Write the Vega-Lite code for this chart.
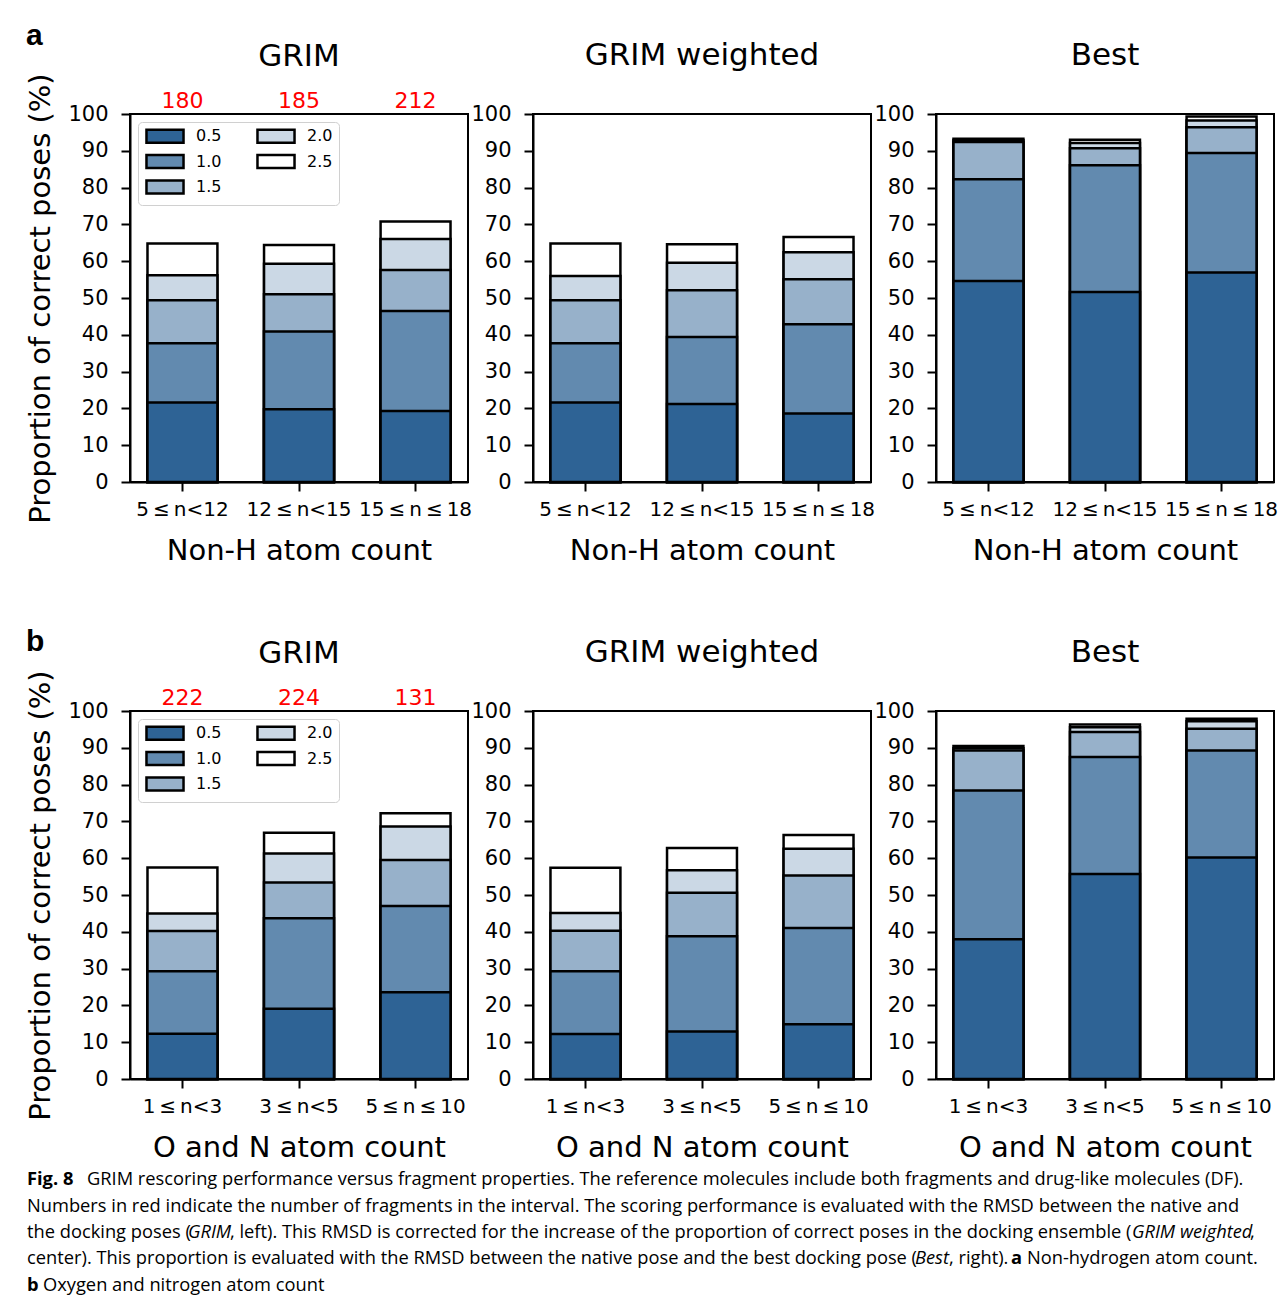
{
 "$schema": "https://vega.github.io/schema/vega-lite/v6.json",
 "padding": {"left": 25, "top": 21, "right": 5, "bottom": 2},
 "background": "white",
 "datasets": {
  "bars": [
   {"r":"a","m":"G","bin":"5\u2009≤\u2009n<12","thr":"0.5","v":21.6},{"r":"a","m":"G","bin":"5\u2009≤\u2009n<12","thr":"1.0","v":37.7},{"r":"a","m":"G","bin":"5\u2009≤\u2009n<12","thr":"1.5","v":49.4},{"r":"a","m":"G","bin":"5\u2009≤\u2009n<12","thr":"2.0","v":56.2},{"r":"a","m":"G","bin":"5\u2009≤\u2009n<12","thr":"2.5","v":64.8},
   {"r":"a","m":"G","bin":"12\u2009≤\u2009n<15","thr":"0.5","v":19.8},{"r":"a","m":"G","bin":"12\u2009≤\u2009n<15","thr":"1.0","v":40.9},{"r":"a","m":"G","bin":"12\u2009≤\u2009n<15","thr":"1.5","v":51.0},{"r":"a","m":"G","bin":"12\u2009≤\u2009n<15","thr":"2.0","v":59.3},{"r":"a","m":"G","bin":"12\u2009≤\u2009n<15","thr":"2.5","v":64.4},
   {"r":"a","m":"G","bin":"15\u2009≤\u2009n\u2009≤\u200918","thr":"0.5","v":19.3},{"r":"a","m":"G","bin":"15\u2009≤\u2009n\u2009≤\u200918","thr":"1.0","v":46.5},{"r":"a","m":"G","bin":"15\u2009≤\u2009n\u2009≤\u200918","thr":"1.5","v":57.6},{"r":"a","m":"G","bin":"15\u2009≤\u2009n\u2009≤\u200918","thr":"2.0","v":66.0},{"r":"a","m":"G","bin":"15\u2009≤\u2009n\u2009≤\u200918","thr":"2.5","v":70.8},
   {"r":"a","m":"W","bin":"5\u2009≤\u2009n<12","thr":"0.5","v":21.6},{"r":"a","m":"W","bin":"5\u2009≤\u2009n<12","thr":"1.0","v":37.7},{"r":"a","m":"W","bin":"5\u2009≤\u2009n<12","thr":"1.5","v":49.4},{"r":"a","m":"W","bin":"5\u2009≤\u2009n<12","thr":"2.0","v":56.0},{"r":"a","m":"W","bin":"5\u2009≤\u2009n<12","thr":"2.5","v":64.8},
   {"r":"a","m":"W","bin":"12\u2009≤\u2009n<15","thr":"0.5","v":21.2},{"r":"a","m":"W","bin":"12\u2009≤\u2009n<15","thr":"1.0","v":39.4},{"r":"a","m":"W","bin":"12\u2009≤\u2009n<15","thr":"1.5","v":52.1},{"r":"a","m":"W","bin":"12\u2009≤\u2009n<15","thr":"2.0","v":59.6},{"r":"a","m":"W","bin":"12\u2009≤\u2009n<15","thr":"2.5","v":64.6},
   {"r":"a","m":"W","bin":"15\u2009≤\u2009n\u2009≤\u200918","thr":"0.5","v":18.6},{"r":"a","m":"W","bin":"15\u2009≤\u2009n\u2009≤\u200918","thr":"1.0","v":42.9},{"r":"a","m":"W","bin":"15\u2009≤\u2009n\u2009≤\u200918","thr":"1.5","v":55.1},{"r":"a","m":"W","bin":"15\u2009≤\u2009n\u2009≤\u200918","thr":"2.0","v":62.4},{"r":"a","m":"W","bin":"15\u2009≤\u2009n\u2009≤\u200918","thr":"2.5","v":66.6},
   {"r":"a","m":"B","bin":"5\u2009≤\u2009n<12","thr":"0.5","v":54.6},{"r":"a","m":"B","bin":"5\u2009≤\u2009n<12","thr":"1.0","v":82.3},{"r":"a","m":"B","bin":"5\u2009≤\u2009n<12","thr":"1.5","v":92.4},{"r":"a","m":"B","bin":"5\u2009≤\u2009n<12","thr":"2.0","v":92.9},{"r":"a","m":"B","bin":"5\u2009≤\u2009n<12","thr":"2.5","v":93.3},
   {"r":"a","m":"B","bin":"12\u2009≤\u2009n<15","thr":"0.5","v":51.6},{"r":"a","m":"B","bin":"12\u2009≤\u2009n<15","thr":"1.0","v":86.1},{"r":"a","m":"B","bin":"12\u2009≤\u2009n<15","thr":"1.5","v":90.7},{"r":"a","m":"B","bin":"12\u2009≤\u2009n<15","thr":"2.0","v":92.1},{"r":"a","m":"B","bin":"12\u2009≤\u2009n<15","thr":"2.5","v":93.0},
   {"r":"a","m":"B","bin":"15\u2009≤\u2009n\u2009≤\u200918","thr":"0.5","v":56.9},{"r":"a","m":"B","bin":"15\u2009≤\u2009n\u2009≤\u200918","thr":"1.0","v":89.4},{"r":"a","m":"B","bin":"15\u2009≤\u2009n\u2009≤\u200918","thr":"1.5","v":96.4},{"r":"a","m":"B","bin":"15\u2009≤\u2009n\u2009≤\u200918","thr":"2.0","v":98.2},{"r":"a","m":"B","bin":"15\u2009≤\u2009n\u2009≤\u200918","thr":"2.5","v":99.3},
   {"r":"b","m":"G","bin":"1\u2009≤\u2009n<3","thr":"0.5","v":12.3},{"r":"b","m":"G","bin":"1\u2009≤\u2009n<3","thr":"1.0","v":29.3},{"r":"b","m":"G","bin":"1\u2009≤\u2009n<3","thr":"1.5","v":40.2},{"r":"b","m":"G","bin":"1\u2009≤\u2009n<3","thr":"2.0","v":45.0},{"r":"b","m":"G","bin":"1\u2009≤\u2009n<3","thr":"2.5","v":57.5},
   {"r":"b","m":"G","bin":"3\u2009≤\u2009n<5","thr":"0.5","v":19.1},{"r":"b","m":"G","bin":"3\u2009≤\u2009n<5","thr":"1.0","v":43.7},{"r":"b","m":"G","bin":"3\u2009≤\u2009n<5","thr":"1.5","v":53.4},{"r":"b","m":"G","bin":"3\u2009≤\u2009n<5","thr":"2.0","v":61.3},{"r":"b","m":"G","bin":"3\u2009≤\u2009n<5","thr":"2.5","v":66.9},
   {"r":"b","m":"G","bin":"5\u2009≤\u2009n\u2009≤\u200910","thr":"0.5","v":23.6},{"r":"b","m":"G","bin":"5\u2009≤\u2009n\u2009≤\u200910","thr":"1.0","v":47.0},{"r":"b","m":"G","bin":"5\u2009≤\u2009n\u2009≤\u200910","thr":"1.5","v":59.5},{"r":"b","m":"G","bin":"5\u2009≤\u2009n\u2009≤\u200910","thr":"2.0","v":68.6},{"r":"b","m":"G","bin":"5\u2009≤\u2009n\u2009≤\u200910","thr":"2.5","v":72.2},
   {"r":"b","m":"W","bin":"1\u2009≤\u2009n<3","thr":"0.5","v":12.2},{"r":"b","m":"W","bin":"1\u2009≤\u2009n<3","thr":"1.0","v":29.3},{"r":"b","m":"W","bin":"1\u2009≤\u2009n<3","thr":"1.5","v":40.3},{"r":"b","m":"W","bin":"1\u2009≤\u2009n<3","thr":"2.0","v":45.1},{"r":"b","m":"W","bin":"1\u2009≤\u2009n<3","thr":"2.5","v":57.4},
   {"r":"b","m":"W","bin":"3\u2009≤\u2009n<5","thr":"0.5","v":12.9},{"r":"b","m":"W","bin":"3\u2009≤\u2009n<5","thr":"1.0","v":38.8},{"r":"b","m":"W","bin":"3\u2009≤\u2009n<5","thr":"1.5","v":50.6},{"r":"b","m":"W","bin":"3\u2009≤\u2009n<5","thr":"2.0","v":56.7},{"r":"b","m":"W","bin":"3\u2009≤\u2009n<5","thr":"2.5","v":62.8},
   {"r":"b","m":"W","bin":"5\u2009≤\u2009n\u2009≤\u200910","thr":"0.5","v":14.9},{"r":"b","m":"W","bin":"5\u2009≤\u2009n\u2009≤\u200910","thr":"1.0","v":41.0},{"r":"b","m":"W","bin":"5\u2009≤\u2009n\u2009≤\u200910","thr":"1.5","v":55.3},{"r":"b","m":"W","bin":"5\u2009≤\u2009n\u2009≤\u200910","thr":"2.0","v":62.6},{"r":"b","m":"W","bin":"5\u2009≤\u2009n\u2009≤\u200910","thr":"2.5","v":66.3},
   {"r":"b","m":"B","bin":"1\u2009≤\u2009n<3","thr":"0.5","v":38.0},{"r":"b","m":"B","bin":"1\u2009≤\u2009n<3","thr":"1.0","v":78.4},{"r":"b","m":"B","bin":"1\u2009≤\u2009n<3","thr":"1.5","v":89.3},{"r":"b","m":"B","bin":"1\u2009≤\u2009n<3","thr":"2.0","v":89.9},{"r":"b","m":"B","bin":"1\u2009≤\u2009n<3","thr":"2.5","v":90.5},
   {"r":"b","m":"B","bin":"3\u2009≤\u2009n<5","thr":"0.5","v":55.7},{"r":"b","m":"B","bin":"3\u2009≤\u2009n<5","thr":"1.0","v":87.5},{"r":"b","m":"B","bin":"3\u2009≤\u2009n<5","thr":"1.5","v":94.3},{"r":"b","m":"B","bin":"3\u2009≤\u2009n<5","thr":"2.0","v":95.6},{"r":"b","m":"B","bin":"3\u2009≤\u2009n<5","thr":"2.5","v":96.3},
   {"r":"b","m":"B","bin":"5\u2009≤\u2009n\u2009≤\u200910","thr":"0.5","v":60.2},{"r":"b","m":"B","bin":"5\u2009≤\u2009n\u2009≤\u200910","thr":"1.0","v":89.3},{"r":"b","m":"B","bin":"5\u2009≤\u2009n\u2009≤\u200910","thr":"1.5","v":95.2},{"r":"b","m":"B","bin":"5\u2009≤\u2009n\u2009≤\u200910","thr":"2.0","v":97.2},{"r":"b","m":"B","bin":"5\u2009≤\u2009n\u2009≤\u200910","thr":"2.5","v":97.9}
  ],
  "counts": [
   {"r":"a","bin":"5\u2009≤\u2009n<12","n":180},{"r":"a","bin":"12\u2009≤\u2009n<15","n":185},{"r":"a","bin":"15\u2009≤\u2009n\u2009≤\u200918","n":212},
   {"r":"b","bin":"1\u2009≤\u2009n<3","n":222},{"r":"b","bin":"3\u2009≤\u2009n<5","n":224},{"r":"b","bin":"5\u2009≤\u2009n\u2009≤\u200910","n":131}
  ],
  "cap": [
   {"s":1,"line":1,"t":"Fig. 8"},
   {"s":2,"line":1,"t":"GRIM rescoring performance versus fragment properties. The reference molecules include both fragments and drug-like molecules (DF)."},
   {"s":3,"line":2,"t":"Numbers in red indicate the number of fragments in the interval. The scoring performance is evaluated with the RMSD between the native and"},
   {"s":4,"line":3,"t":"the docking poses ("},
   {"s":5,"line":3,"t":"GRIM"},
   {"s":6,"line":3,"t":", left). This RMSD is corrected for the increase of the proportion of correct poses in the docking ensemble ("},
   {"s":7,"line":3,"t":"GRIM weighted"},
   {"s":8,"line":3,"t":","},
   {"s":9,"line":4,"t":"center). This proportion is evaluated with the RMSD between the native pose and the best docking pose ("},
   {"s":10,"line":4,"t":"Best"},
   {"s":11,"line":4,"t":", right)."},
   {"s":12,"line":4,"t":"a"},
   {"s":13,"line":4,"t":"Non-hydrogen atom count."},
   {"s":14,"line":5,"t":"b"},
   {"s":15,"line":5,"t":"Oxygen and nitrogen atom count"}
  ]
 },
 "concat": [
  {
   "vconcat": [
    {
     "title": {"text": "a", "anchor": "start", "frame": "bounds", "font": "Liberation Sans", "fontSize": 30, "fontWeight": "bold", "offset": -12},
     "hconcat": [
      {
       "width": 338, "height": 368,
       "title": {"text": "GRIM", "offset": 0},
       "layer": [
        {
         "data": {"name": "bars"},
         "transform": [{"filter": "datum.r == 'a' && datum.m == 'G'"}],
         "mark": {"type": "bar", "stroke": "black", "strokeWidth": 2.5},
         "encoding": {
          "x": {"field": "bin", "type": "nominal", "sort": ["5\u2009≤\u2009n<12", "12\u2009≤\u2009n<15", "15\u2009≤\u2009n\u2009≤\u200918"], "scale": {"paddingInner": 0.4, "paddingOuter": 0.15}, "axis": {"title": "Non-H atom count"}},
          "y": {"field": "v", "type": "quantitative", "stack": null, "scale": {"domain": [0, 100], "nice": false}, "axis": {"title": "Proportion of correct poses (%)"}},
          "color": {"field": "thr", "type": "nominal", "scale": {"domain": ["0.5", "1.0", "1.5", "2.0", "2.5"], "range": ["#2e6395", "#628aaf", "#97b1ca", "#cbd8e5", "#ffffff"]}, "legend": {"orient": "top-left", "offset": 8, "title": null, "columns": 2, "symbolType": "M-2.85,-1H2.85V1H-2.85Z", "symbolSize": 169, "symbolOffset": 13, "symbolStrokeColor": "black", "symbolStrokeWidth": 2.5, "symbolOpacity": 1, "labelFontSize": 16, "labelFont": "DejaVu Sans", "labelColor": "black", "labelOffset": 23, "columnPadding": 30, "rowPadding": 1.5, "padding": 6, "fillColor": "white", "strokeColor": "#d0d0d0", "cornerRadius": 4}},
          "order": {"field": "thr", "sort": "descending"}
         }
        },
        {
         "data": {"name": "counts"},
         "transform": [{"filter": "datum.r == 'a'"}],
         "mark": {"type": "text", "color": "#ff0000", "fontSize": 22, "font": "DejaVu Sans", "align": "center", "baseline": "alphabetic", "dy": -6},
         "encoding": {"x": {"field": "bin", "type": "nominal", "sort": ["5\u2009≤\u2009n<12", "12\u2009≤\u2009n<15", "15\u2009≤\u2009n\u2009≤\u200918"]}, "y": {"datum": 100}, "text": {"field": "n"}}
        }
       ]
      },
      {
       "width": 338, "height": 368,
       "title": {"text": "GRIM weighted", "offset": 31},
       "data": {"name": "bars"},
       "transform": [{"filter": "datum.r == 'a' && datum.m == 'W'"}],
       "mark": {"type": "bar", "stroke": "black", "strokeWidth": 2.5},
       "encoding": {
        "x": {"field": "bin", "type": "nominal", "sort": ["5\u2009≤\u2009n<12", "12\u2009≤\u2009n<15", "15\u2009≤\u2009n\u2009≤\u200918"], "scale": {"paddingInner": 0.4, "paddingOuter": 0.15}, "axis": {"title": "Non-H atom count"}},
        "y": {"field": "v", "type": "quantitative", "stack": null, "scale": {"domain": [0, 100], "nice": false}, "axis": {"title": null}},
        "color": {"field": "thr", "type": "nominal", "scale": {"domain": ["0.5", "1.0", "1.5", "2.0", "2.5"], "range": ["#2e6395", "#628aaf", "#97b1ca", "#cbd8e5", "#ffffff"]}, "legend": null},
        "order": {"field": "thr", "sort": "descending"}
       }
      },
      {
       "width": 338, "height": 368,
       "title": {"text": "Best", "offset": 31},
       "data": {"name": "bars"},
       "transform": [{"filter": "datum.r == 'a' && datum.m == 'B'"}],
       "mark": {"type": "bar", "stroke": "black", "strokeWidth": 2.5},
       "encoding": {
        "x": {"field": "bin", "type": "nominal", "sort": ["5\u2009≤\u2009n<12", "12\u2009≤\u2009n<15", "15\u2009≤\u2009n\u2009≤\u200918"], "scale": {"paddingInner": 0.4, "paddingOuter": 0.15}, "axis": {"title": "Non-H atom count"}},
        "y": {"field": "v", "type": "quantitative", "stack": null, "scale": {"domain": [0, 100], "nice": false}, "axis": {"title": null}},
        "color": {"field": "thr", "type": "nominal", "scale": {"domain": ["0.5", "1.0", "1.5", "2.0", "2.5"], "range": ["#2e6395", "#628aaf", "#97b1ca", "#cbd8e5", "#ffffff"]}, "legend": null},
        "order": {"field": "thr", "sort": "descending"}
       }
      }
     ],
     "spacing": 65,
     "bounds": "flush",
     "resolve": {"scale": {"color": "independent", "x": "independent", "y": "independent"}, "legend": {"color": "independent"}}
    },
    {
     "title": {"text": "b", "anchor": "start", "frame": "bounds", "font": "Liberation Sans", "fontSize": 30, "fontWeight": "bold", "offset": -21},
     "hconcat": [
      {
       "width": 338, "height": 368,
       "title": {"text": "GRIM", "offset": 0},
       "layer": [
        {
         "data": {"name": "bars"},
         "transform": [{"filter": "datum.r == 'b' && datum.m == 'G'"}],
         "mark": {"type": "bar", "stroke": "black", "strokeWidth": 2.5},
         "encoding": {
          "x": {"field": "bin", "type": "nominal", "sort": ["1\u2009≤\u2009n<3", "3\u2009≤\u2009n<5", "5\u2009≤\u2009n\u2009≤\u200910"], "scale": {"paddingInner": 0.4, "paddingOuter": 0.15}, "axis": {"title": "O and N atom count"}},
          "y": {"field": "v", "type": "quantitative", "stack": null, "scale": {"domain": [0, 100], "nice": false}, "axis": {"title": "Proportion of correct poses (%)"}},
          "color": {"field": "thr", "type": "nominal", "scale": {"domain": ["0.5", "1.0", "1.5", "2.0", "2.5"], "range": ["#2e6395", "#628aaf", "#97b1ca", "#cbd8e5", "#ffffff"]}, "legend": {"orient": "top-left", "offset": 8, "title": null, "columns": 2, "symbolType": "M-2.85,-1H2.85V1H-2.85Z", "symbolSize": 169, "symbolOffset": 13, "symbolStrokeColor": "black", "symbolStrokeWidth": 2.5, "symbolOpacity": 1, "labelFontSize": 16, "labelFont": "DejaVu Sans", "labelColor": "black", "labelOffset": 23, "columnPadding": 30, "rowPadding": 1.5, "padding": 6, "fillColor": "white", "strokeColor": "#d0d0d0", "cornerRadius": 4}},
          "order": {"field": "thr", "sort": "descending"}
         }
        },
        {
         "data": {"name": "counts"},
         "transform": [{"filter": "datum.r == 'b'"}],
         "mark": {"type": "text", "color": "#ff0000", "fontSize": 22, "font": "DejaVu Sans", "align": "center", "baseline": "alphabetic", "dy": -6},
         "encoding": {"x": {"field": "bin", "type": "nominal", "sort": ["1\u2009≤\u2009n<3", "3\u2009≤\u2009n<5", "5\u2009≤\u2009n\u2009≤\u200910"]}, "y": {"datum": 100}, "text": {"field": "n"}}
        }
       ]
      },
      {
       "width": 338, "height": 368,
       "title": {"text": "GRIM weighted", "offset": 31},
       "data": {"name": "bars"},
       "transform": [{"filter": "datum.r == 'b' && datum.m == 'W'"}],
       "mark": {"type": "bar", "stroke": "black", "strokeWidth": 2.5},
       "encoding": {
        "x": {"field": "bin", "type": "nominal", "sort": ["1\u2009≤\u2009n<3", "3\u2009≤\u2009n<5", "5\u2009≤\u2009n\u2009≤\u200910"], "scale": {"paddingInner": 0.4, "paddingOuter": 0.15}, "axis": {"title": "O and N atom count"}},
        "y": {"field": "v", "type": "quantitative", "stack": null, "scale": {"domain": [0, 100], "nice": false}, "axis": {"title": null}},
        "color": {"field": "thr", "type": "nominal", "scale": {"domain": ["0.5", "1.0", "1.5", "2.0", "2.5"], "range": ["#2e6395", "#628aaf", "#97b1ca", "#cbd8e5", "#ffffff"]}, "legend": null},
        "order": {"field": "thr", "sort": "descending"}
       }
      },
      {
       "width": 338, "height": 368,
       "title": {"text": "Best", "offset": 31},
       "data": {"name": "bars"},
       "transform": [{"filter": "datum.r == 'b' && datum.m == 'B'"}],
       "mark": {"type": "bar", "stroke": "black", "strokeWidth": 2.5},
       "encoding": {
        "x": {"field": "bin", "type": "nominal", "sort": ["1\u2009≤\u2009n<3", "3\u2009≤\u2009n<5", "5\u2009≤\u2009n\u2009≤\u200910"], "scale": {"paddingInner": 0.4, "paddingOuter": 0.15}, "axis": {"title": "O and N atom count"}},
        "y": {"field": "v", "type": "quantitative", "stack": null, "scale": {"domain": [0, 100], "nice": false}, "axis": {"title": null}},
        "color": {"field": "thr", "type": "nominal", "scale": {"domain": ["0.5", "1.0", "1.5", "2.0", "2.5"], "range": ["#2e6395", "#628aaf", "#97b1ca", "#cbd8e5", "#ffffff"]}, "legend": null},
        "order": {"field": "thr", "sort": "descending"}
       }
      }
     ],
     "spacing": 65,
     "bounds": "flush",
     "resolve": {"scale": {"color": "independent", "x": "independent", "y": "independent"}, "legend": {"color": "independent"}}
    }
   ],
   "spacing": 61
  },
  {
   "width": 1240, "height": 132,
   "view": {"stroke": null},
   "data": {"name": "cap"},
   "encoding": {
    "x": {"value": -103},
    "y": {"field": "line", "type": "ordinal", "axis": null},
    "text": {"field": "t"}
   },
   "layer": [
    {"transform": [{"filter": "datum.s == 1 || datum.s == 14"}], "mark": {"type": "text", "style": "cap", "fontWeight": "bold"}},
    {"transform": [{"filter": "datum.s == 2"}], "mark": {"type": "text", "style": "cap", "dx": 60}},
    {"transform": [{"filter": "datum.s == 3 || datum.s == 4 || datum.s == 9"}], "mark": {"type": "text", "style": "cap"}},
    {"transform": [{"filter": "datum.s == 5"}], "mark": {"type": "text", "style": "cap", "fontStyle": "italic", "dx": 161}},
    {"transform": [{"filter": "datum.s == 6"}], "mark": {"type": "text", "style": "cap", "dx": 203}},
    {"transform": [{"filter": "datum.s == 7"}], "mark": {"type": "text", "style": "cap", "fontStyle": "italic", "dx": 1105}},
    {"transform": [{"filter": "datum.s == 8"}], "mark": {"type": "text", "style": "cap", "dx": 1223}},
    {"transform": [{"filter": "datum.s == 10"}], "mark": {"type": "text", "style": "cap", "fontStyle": "italic", "dx": 888}},
    {"transform": [{"filter": "datum.s == 11"}], "mark": {"type": "text", "style": "cap", "dx": 922}},
    {"transform": [{"filter": "datum.s == 12"}], "mark": {"type": "text", "style": "cap", "fontWeight": "bold", "dx": 984}},
    {"transform": [{"filter": "datum.s == 13"}], "mark": {"type": "text", "style": "cap", "dx": 1000}},
    {"transform": [{"filter": "datum.s == 15"}], "mark": {"type": "text", "style": "cap", "dx": 16}}
   ]
  }
 ],
 "columns": 1,
 "align": "none",
 "spacing": 4,
 "config": {
  "font": "DejaVu Sans",
  "view": {"stroke": "black", "strokeWidth": 2},
  "axis": {"domainColor": "black", "domainWidth": 2, "tickColor": "black", "tickWidth": 2, "tickSize": 9, "labelColor": "black", "titleColor": "black", "labelFont": "DejaVu Sans", "titleFont": "DejaVu Sans", "titleFontWeight": "normal", "grid": false, "labelFontSize": 21, "titleFontSize": 29},
  "axisX": {"labelAngle": 0, "labelPadding": 8, "titlePadding": 17, "labelFontSize": 20},
  "axisY": {"labelPadding": 13, "titlePadding": 12, "values": [0, 10, 20, 30, 40, 50, 60, 70, 80, 90, 100]},
  "title": {"font": "DejaVu Sans", "fontSize": 31, "fontWeight": "normal", "color": "black", "frame": "group", "anchor": "middle", "offset": 40},
  "style": {"cap": {"font": "Open Sans", "fontSize": 18.3, "align": "left", "baseline": "middle", "fill": "#231f20"}}
 }
}
